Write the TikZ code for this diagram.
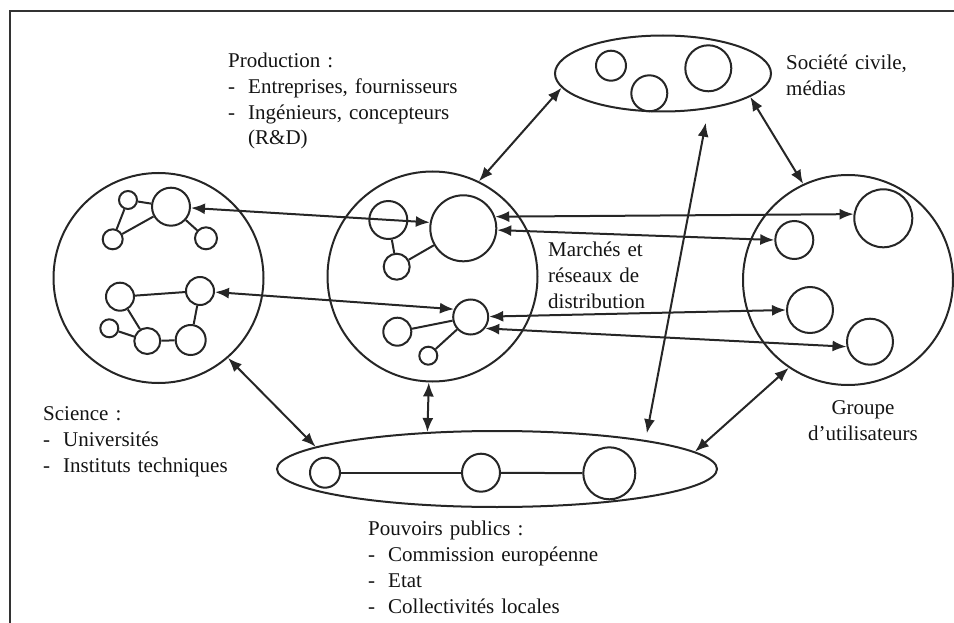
\documentclass[tikz,border=0pt]{standalone}
\usepackage{fontspec}
\setmainfont{Liberation Serif}
\usepackage{tikz}
\usetikzlibrary{arrows.meta, shapes.geometric}
\tikzset{>={Latex[length=14pt,width=11pt]}}
\definecolor{inkgray}{HTML}{262626}
\def\bigradius{105}
\def\linew{2pt}
\newcommand{\dashitem}{\makebox[20pt][l]{-}}
\newcommand{\captionfont}{\fontsize{21}{25.7}\selectfont\spaceskip=7pt plus 2pt\relax}

\begin{document}
\begin{tikzpicture}[x=1pt, y=-1pt,
    group/.style={draw=inkgray, line width=\linew, circle, inner sep=0pt, minimum size={2*\bigradius}},
    ring/.style={draw=inkgray, line width=\linew, circle, inner sep=0pt, minimum size={2*#1}},
    cloud/.style={draw=inkgray, line width=\linew, ellipse, inner sep=0pt},
    link/.style={draw=inkgray, line width=\linew},
    flow/.style={draw=inkgray, line width=\linew, <->},
    caption/.style={inner sep=0pt, align=left, font=\captionfont, text=black!92}]

\useasboundingbox (0,0) rectangle (954,623);

% Frame
\draw[line width=2.4pt, black!80] (10,623) -- (10,11) -- (954,11);

% Big groups
\node[group] (science) at (158.5,278) {};
\node[group] (prod) at (432.5,276.5) {};
\node[group] (users) at (848,280) {};
\node[cloud, minimum width=216pt, minimum height=76pt] (civil) at (663,73.5) {};
\node[cloud, minimum width=440pt, minimum height=76pt] (publics) at (497,469) {};

% Actors inside the groups
\foreach \name/\x/\y/\r in {
    sci_a/128/200/9, sci_b/171/206.7/19, sci_c/112.7/239.3/10, sci_d/206/238.3/11,
    sci_e/120/296.7/14, sci_f/200/291/14, sci_g/109.3/328.3/9, sci_h/147.3/341/13, sci_i/190.7/340/15,
    prod_a/388.3/220/19, prod_big/463.3/228.3/33, prod_b/396.7/266.7/13,
    prod_c/470.7/317/17.5, prod_d/397.3/331.7/14, prod_e/428.3/355.7/9,
    user_a/883.3/218.3/29, user_b/794.3/240/19, user_c/810/310/23, user_d/870/341.7/23,
    civil_a/611/65.7/15, civil_b/649.3/93.3/18, civil_c/708.3/68.3/23,
    pub_a/325/472.7/15, pub_b/481/472.7/19, pub_c/609.3/473.3/26}
    \node[ring=\r] (\name) at (\x,\y) {};

\foreach \a/\b in {sci_a/sci_b, sci_a/sci_c, sci_c/sci_b, sci_b/sci_d,
    sci_e/sci_f, sci_e/sci_h, sci_g/sci_h, sci_h/sci_i, sci_f/sci_i,
    prod_a/prod_b, prod_b/prod_big, prod_d/prod_c, prod_e/prod_c,
    pub_a/pub_b, pub_b/pub_c}
    \draw[link] (\a) -- (\b);

% Exchanges
\draw[flow] (sci_b) -- (prod_big.170);
\draw[flow] (sci_f) -- (prod_c.155);
\draw[flow] (prod_big.20) -- (user_a.172);
\draw[flow] (prod_big.-3) -- (user_b.west);
\draw[flow] (prod_c) -- (user_c.west);
\draw[flow] (prod_c.-38) -- (user_d.192);
\draw[flow] (prod.64) -- (civil.188);
\draw[flow] (civil.-15) -- (users.115);
\draw[flow, shorten <=14pt, shorten >=7pt] (civil.-38) -- (publics.11);
\draw[flow] (prod.268) -- (publics.152);
\draw[flow] (science.-49) -- (publics.173);
\draw[flow] (users.-124) -- (publics.5);

% Labels (base anchor sits on the last line)
\node[caption, anchor=base west] (prod_label) at (228,145)
    {Production :\\\dashitem Entreprises, fournisseurs\\\dashitem Ingénieurs, concepteurs\\\hspace*{20pt}(R\&D)};
\node[caption, anchor=base west] (civil_label) at (786,95.5) {Société civile,\\médias};
\node[caption, anchor=base west] (market_label) at (548,308) {Marchés et\\réseaux de\\distribution};
\node[caption, align=center, anchor=base] (users_label) at (863,440) {Groupe\\d’utilisateurs};
\node[caption, anchor=base west] (science_label) at (43,472)
    {Science :\\\dashitem Universités\\\dashitem Instituts techniques};
\node[caption, anchor=base west] (publics_label) at (368,613)
    {Pouvoirs publics :\\\dashitem Commission européenne\\\dashitem Etat\\\dashitem Collectivités locales};

\end{tikzpicture}
\end{document}
